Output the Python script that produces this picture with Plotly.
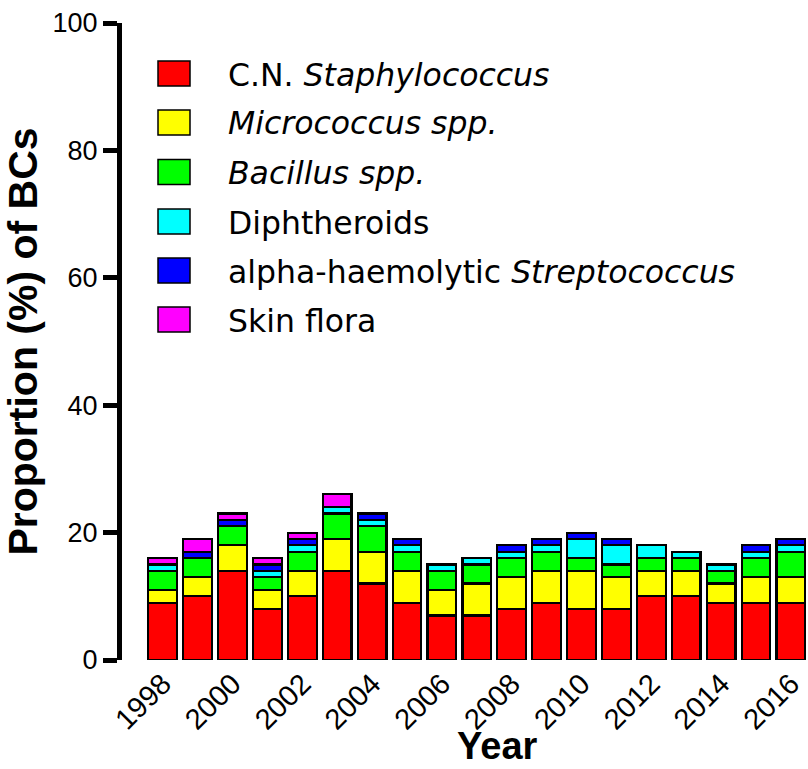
import plotly.graph_objects as go

years = list(range(1998, 2017))

# Percentage of blood cultures per contaminant group, stacked per year
cn_staph = [9, 10, 14, 8, 10, 14, 12, 9, 7, 7, 8, 9, 8, 8, 10, 10, 9, 9, 9]
micrococcus = [2, 3, 4, 3, 4, 5, 5, 5, 4, 5, 5, 5, 6, 5, 4, 4, 3, 4, 4]
bacillus = [3, 3, 3, 2, 3, 4, 4, 3, 3, 3, 3, 3, 2, 2, 2, 2, 2, 3, 4]
diphtheroids = [1, 0, 0, 1, 1, 1, 1, 1, 1, 1, 1, 1, 3, 3, 2, 1, 1, 1, 1]
alpha_strep = [0, 1, 1, 1, 1, 0, 1, 1, 0, 0, 1, 1, 1, 1, 0, 0, 0, 1, 1]
skin_flora = [1, 2, 1, 1, 1, 2, 0, 0, 0, 0, 0, 0, 0, 0, 0, 0, 0, 0, 0]

series = [
    ("C.N. <i>Staphylococcus</i>", cn_staph, "#FF0000"),
    ("<i>Micrococcus spp.</i>", micrococcus, "#FFFF00"),
    ("<i>Bacillus spp.</i>", bacillus, "#00FF00"),
    ("Diphtheroids", diphtheroids, "#00FFFF"),
    ("alpha-haemolytic <i>Streptococcus</i>", alpha_strep, "#0000FF"),
    ("Skin flora", skin_flora, "#FF00FF"),
]

W, H = 808, 769
L, R, T, B = 122, 0, 23, 109
PW, PH = W - L - R, H - T - B
FONT = "Liberation Sans, Arial, Helvetica, sans-serif"
LEG_FONT = "DejaVu Sans, Liberation Sans, sans-serif"

fig = go.Figure()
for name, vals, col in series:
    fig.add_trace(go.Bar(
        x=years, y=vals, name=name, width=0.82,
        marker=dict(color=col, line=dict(color="black", width=2.2)),
        showlegend=False,
    ))

# Hand-built legend: large square swatches with labels
def px_to_paper(px, py):
    return (px - L) / PW, (T + PH - py) / PH

leg_y = [73.5, 122.5, 172, 221.5, 270.5, 319.5]
shapes = []
annotations = []
for (name, _, col), cy in zip(series, leg_y):
    x0, y0 = px_to_paper(158, cy + 12.5)
    x1, y1 = px_to_paper(190, cy - 12.5)
    shapes.append(dict(type="rect", xref="paper", yref="paper",
                       x0=x0, x1=x1, y0=y0, y1=y1,
                       fillcolor=col, line=dict(color="black", width=1.5)))
    tx, ty = px_to_paper(226, cy + 1)
    annotations.append(dict(xref="paper", yref="paper", x=tx, y=ty,
                            xanchor="left", yanchor="middle", showarrow=False,
                            text=name, font=dict(family=LEG_FONT, size=31.5, color="black")))

yx, yy = px_to_paper(497, 769)
annotations.append(dict(xref="paper", yref="paper", x=yx, y=yy,
                        xanchor="center", yanchor="bottom", showarrow=False,
                        text="<b>Year</b>", font=dict(family=FONT, size=38, color="black")))

fig.update_layout(
    width=W, height=H,
    margin=dict(l=L, r=R, t=T, b=B, pad=0),
    barmode="stack",
    plot_bgcolor="white", paper_bgcolor="white",
    font=dict(family=FONT, color="black"),
    shapes=shapes,
    annotations=annotations,
    xaxis=dict(
        range=[1996.834, 2016.49],
        tickmode="array", tickvals=years[::2], ticktext=[str(y) for y in years[::2]],
        tickangle=-45, ticks="", showline=False, showgrid=False, zeroline=False,
        tickfont=dict(family=FONT, size=29, color="black"),
    ),
    yaxis=dict(
        range=[0, 100], tickvals=[0, 20, 40, 60, 80, 100],
        ticks="outside", ticklen=14, tickwidth=5, tickcolor="black",
        showline=True, linewidth=5, linecolor="black",
        showgrid=False, zeroline=False,
        tickfont=dict(family=FONT, size=27, color="black"),
        title=dict(text="<b>Proportion (%) of BCs</b>", standoff=8,
                   font=dict(family=FONT, size=41, color="black")),
    ),
)

fig.write_html("out.html")
